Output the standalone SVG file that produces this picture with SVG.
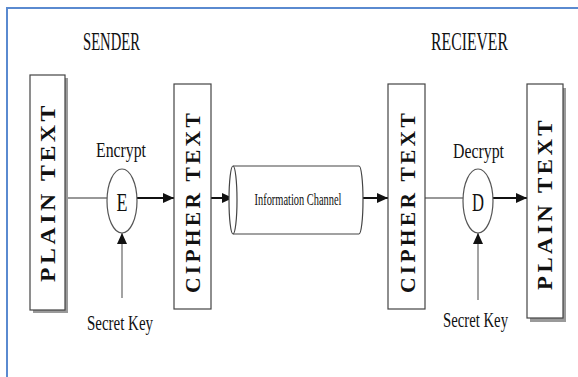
<svg xmlns="http://www.w3.org/2000/svg" width="578" height="377" viewBox="0 0 578 377">
<style>
.lbl{font-family:"Liberation Serif","Times New Roman",serif;fill:#111;}
.vt{font-family:"Liberation Serif","Times New Roman",serif;font-weight:bold;fill:#111;letter-spacing:3px;}
.box{fill:#fff;stroke:#444;stroke-width:1.2;}
.shadow{fill:#9a9a9a;}
.ln{stroke:#333;stroke-width:1.2;fill:none;}
.ar{stroke:#111;stroke-width:2;fill:none;}
.kl{stroke:#666;stroke-width:1.2;fill:none;}
</style>
<defs>
<marker id="ah" markerUnits="userSpaceOnUse" markerWidth="12" markerHeight="12" refX="11" refY="6" orient="auto">
<path d="M0,1 L11,6 L0,11 Z" fill="#111"/>
</marker>
</defs>
<rect x="7" y="8" width="600" height="400" fill="#fff" stroke="#5a8ad0" stroke-width="2"/>
<text class="lbl" x="111.5" y="50" font-size="25" text-anchor="middle" textLength="57" lengthAdjust="spacingAndGlyphs">SENDER</text>
<text class="lbl" x="469.5" y="50" font-size="25" text-anchor="middle" textLength="77" lengthAdjust="spacingAndGlyphs">RECIEVER</text>
<g id="connectors">
<line class="ln" x1="65" y1="198" x2="107" y2="198"/>
<line class="ar" x1="137" y1="198" x2="174" y2="198" marker-end="url(#ah)"/>
<line class="ar" x1="211" y1="198" x2="233" y2="198" marker-end="url(#ah)"/>
<line class="ar" x1="363" y1="198" x2="388" y2="198" marker-end="url(#ah)"/>
<line class="ln" x1="425" y1="198" x2="463" y2="198"/>
<line class="ar" x1="493" y1="198" x2="527" y2="198" marker-end="url(#ah)"/>
<line class="kl" x1="122" y1="298" x2="122" y2="233" marker-end="url(#ah)"/>
<line class="kl" x1="478" y1="300" x2="478" y2="233" marker-end="url(#ah)"/>
</g>
<g id="plain1">
<rect class="shadow" x="33" y="78" width="35" height="235"/>
<rect class="box" x="30" y="75" width="35" height="235"/>
<text class="vt" transform="translate(54.5,192) rotate(-90)" font-size="20" text-anchor="middle" textLength="180" lengthAdjust="spacingAndGlyphs">PLAIN TEXT</text>
</g>
<g id="encrypt">
<ellipse cx="122" cy="201" rx="15" ry="32" fill="#fff" stroke="#555" stroke-width="1.2"/>
<text class="lbl" x="122" y="211" font-size="25" text-anchor="middle" textLength="11" lengthAdjust="spacingAndGlyphs">E</text>
<text class="lbl" x="121" y="157" font-size="21" text-anchor="middle" textLength="50" lengthAdjust="spacingAndGlyphs">Encrypt</text>
<text class="lbl" x="120" y="330" font-size="22" text-anchor="middle" textLength="66" lengthAdjust="spacingAndGlyphs">Secret Key</text>
</g>
<g id="cipher1">
<rect class="box" x="174" y="84" width="37" height="225"/>
<text class="vt" transform="translate(199.5,201.5) rotate(-90)" font-size="20" text-anchor="middle" textLength="183" lengthAdjust="spacingAndGlyphs">CIPHER TEXT</text>
</g>
<g id="channel">
<path d="M233,166 L359,166 A4,34 0 0 1 359,234 L233,234" fill="#fff" stroke="#444" stroke-width="1.2"/>
<ellipse cx="233" cy="200" rx="4" ry="34" fill="#fff" stroke="#444" stroke-width="1.2"/>
<text class="lbl" x="298" y="205" font-size="17" text-anchor="middle" textLength="87" lengthAdjust="spacingAndGlyphs">Information Channel</text>
</g>
<g id="cipher2">
<rect class="box" x="388" y="84" width="37" height="225"/>
<text class="vt" transform="translate(415,201.5) rotate(-90)" font-size="20" text-anchor="middle" textLength="183" lengthAdjust="spacingAndGlyphs">CIPHER TEXT</text>
</g>
<g id="decrypt">
<ellipse cx="478" cy="201" rx="15" ry="32" fill="#fff" stroke="#555" stroke-width="1.2"/>
<text class="lbl" x="478" y="211" font-size="25" text-anchor="middle" textLength="12" lengthAdjust="spacingAndGlyphs">D</text>
<text class="lbl" x="478.5" y="158" font-size="21" text-anchor="middle" textLength="51" lengthAdjust="spacingAndGlyphs">Decrypt</text>
<text class="lbl" x="475.5" y="327" font-size="22" text-anchor="middle" textLength="65" lengthAdjust="spacingAndGlyphs">Secret Key</text>
</g>
<g id="plain2">
<rect class="shadow" x="530" y="88" width="36" height="234"/>
<rect class="box" x="527" y="84" width="36" height="234"/>
<text class="vt" transform="translate(552,203.5) rotate(-90)" font-size="20" text-anchor="middle" textLength="173" lengthAdjust="spacingAndGlyphs">PLAIN TEXT</text>
</g>
</svg>
